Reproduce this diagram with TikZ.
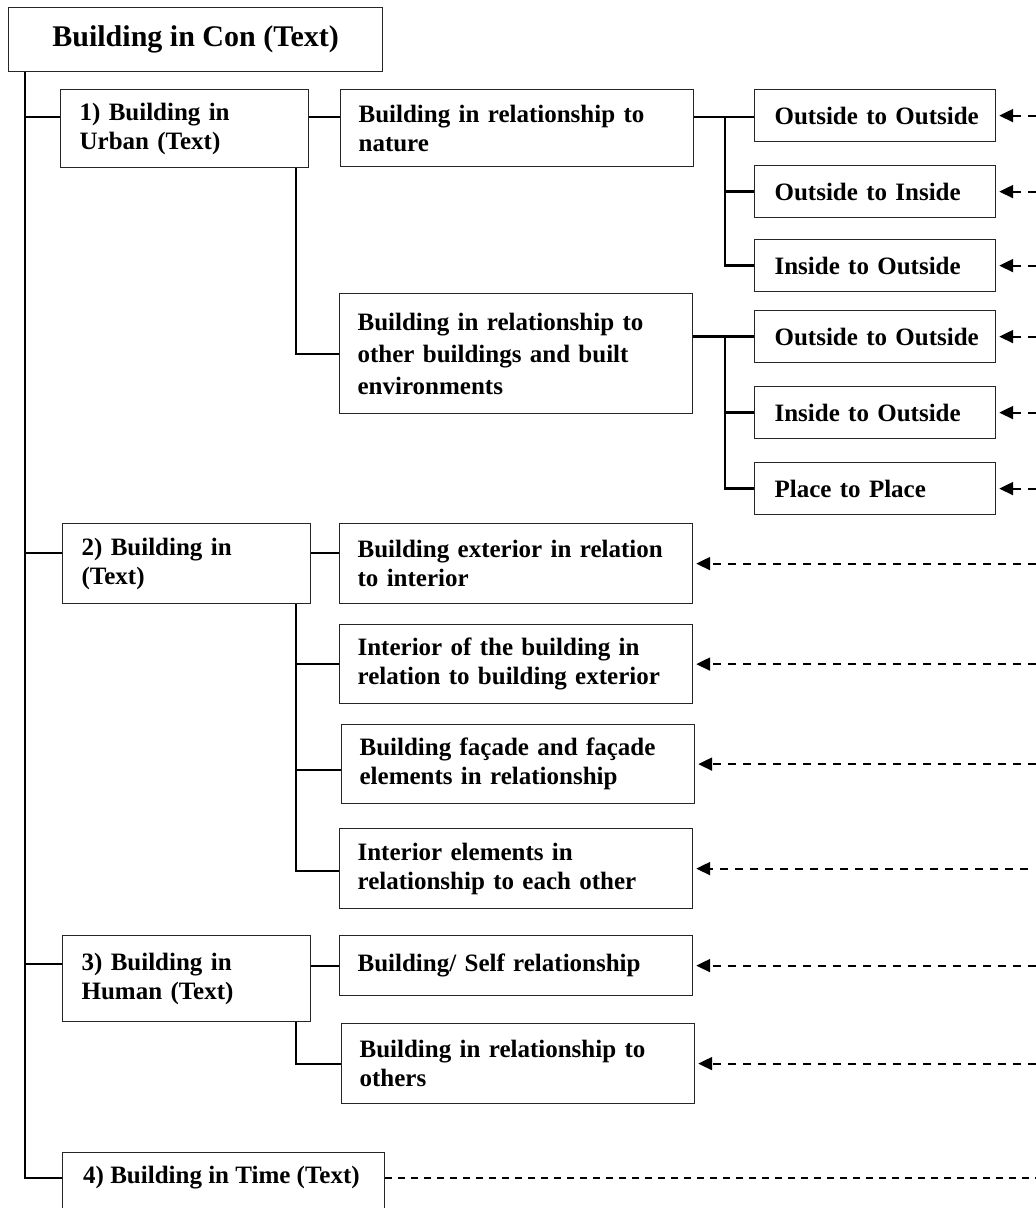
\documentclass[tikz,border=0pt]{standalone}
\usepackage{fontspec}
\setmainfont{Liberation Serif}
\usetikzlibrary{arrows.meta}
\begin{document}
\begin{tikzpicture}[x=1pt,y=-1pt,
  box/.style={draw=black!85, line width=1.2pt, inner ysep=0pt, inner xsep=0pt, anchor=north west, align=left, font=\bfseries\fontsize{25}{29}\selectfont},
  grp/.style={box, minimum width=248pt, text width=248pt, execute at begin node={\leftskip=19pt\relax\hyphenpenalty=10000\relax}},
  sub/.style={box, minimum width=353pt, text width=353pt, execute at begin node={\leftskip=18pt\relax\hyphenpenalty=10000\relax}},
  leaf/.style={box, minimum width=241pt, text width=241pt, minimum height=52pt, execute at begin node={\leftskip=20pt\relax\hyphenpenalty=10000\relax}},
  link/.style={line width=2pt},
  bus/.style={line width=2.6pt},
  darr/.style={line width=2.1pt, dash pattern=on 8pt off 7pt, -{Triangle[length=14pt,width=13pt]}, shorten >=3pt},
  tline/.style={line width=1.3pt, dash pattern=on 7pt off 6pt}]
\useasboundingbox (0,0) rectangle (1036,1208);

% nodes
\node[box, minimum width=374pt, minimum height=64pt, align=center, font=\bfseries\fontsize{30}{34}\selectfont] (root) at (8,7) {Building in Con (Text)};
\node[grp, minimum height=78pt] (b1) at (60,89) {1) Building in\\Urban (Text)};
\node[sub, minimum height=77pt] (n1) at (340,89) {Building in relationship to\\nature};
\node[leaf] (oo1) at (754,89) {Outside to Outside};
\node[leaf] (oi) at (754,165) {Outside to Inside};
\node[leaf] (io1) at (754,239) {Inside to Outside};
\node[sub, minimum height=120pt, font=\bfseries\fontsize{25}{32}\selectfont] (ob) at (339,293) {Building in relationship to\\other buildings and built\\environments};
\node[leaf] (oo2) at (754,310) {Outside to Outside};
\node[leaf] (io2) at (754,386) {Inside to Outside};
\node[leaf] (pp) at (754,462) {Place to Place};
\node[grp, minimum height=80pt] (b2) at (62,523) {2) Building in\\(Text)};
\node[sub, minimum height=80pt] (ext) at (339,523) {Building exterior in relation\\to interior};
\node[sub, minimum height=79pt] (intb) at (339,624) {Interior of the building in\\relation to building exterior};
\node[sub, minimum height=79pt] (fac) at (341,724) {Building façade and façade\\elements in relationship};
\node[sub, minimum height=80pt] (inte) at (339,828) {Interior elements in\\relationship to each other};
\node[grp, minimum height=86pt] (b3) at (62,935) {3) Building in\\Human (Text)};
\node[sub, minimum height=60pt] (self) at (339,935) {Building/ Self relationship};
\node[sub, minimum height=80pt] (oth) at (341,1023) {Building in relationship to\\others};
\node[box, minimum width=322pt, minimum height=70pt] (b4) at (62,1152) {};
\node[anchor=west, inner sep=0pt, font=\bfseries\fontsize{25}{29}\selectfont] (b4t) at (83,1178) {4) Building in Time (Text)};

% helper coordinates
\coordinate (tk) at (25,0);
\coordinate (v1) at (296,0);
\coordinate (bus) at (725,0);
\coordinate (edge) at (1036,0);
\coordinate (edge2) at (1028,0);
\coordinate (r1) at (0,117);
\coordinate (r2) at (0,553);
\coordinate (r4) at (0,770);
\coordinate (r5) at (0,871);
\coordinate (r6) at (0,964);

% trunk
\draw[link] (root.south -| tk) -- (b4t.west -| tk) -- (b4t.west -| b4.west);
\draw[link] (r1 -| tk) -- (r1 -| b1.west);
\draw[link] (r2 -| tk) -- (r2 -| b2.west);
\draw[link] (r6 -| tk) -- (r6 -| b3.west);

% group 1
\draw[link] (r1 -| b1.east) -- (r1 -| n1.west);
\draw[link] (b1.south -| v1) -- (ob.west -| v1) -- (ob.west);
\draw[bus] (r1 -| n1.east) -- (r1 -| oo1.west);
\draw[bus] (r1 -| bus) -- (io1.west -| bus) -- (io1.west);
\draw[bus] (oi.west -| bus) -- (oi.west);
\draw[bus] (ob.east |- oo2.west) -- (oo2.west);
\draw[bus] (oo2.west -| bus) -- (pp.west -| bus) -- (pp.west);
\draw[bus] (io2.west -| bus) -- (io2.west);

% group 2
\draw[link] (r2 -| b2.east) -- (r2 -| ext.west);
\draw[link] (b2.south -| v1) -- (r5 -| v1) -- (r5 -| inte.west);
\draw[link] (intb.west -| v1) -- (intb.west);
\draw[link] (r4 -| v1) -- (r4 -| fac.west);

% group 3
\draw[link] (self.west -| b3.east) -- (self.west);
\draw[link] (b3.south -| v1) -- (oth.west -| v1) -- (oth.west);

% dashed arrows
\foreach \n in {oo1,oi,io1,oo2,io2,pp,ext,intb,fac,self,oth}
  \draw[darr] (\n.east -| edge) -- (\n.east);
\draw[darr] (inte.east -| edge2) -- (inte.east);
\draw[tline] (b4t.west -| b4.east) -- (b4t.west -| edge);
\end{tikzpicture}
\end{document}
